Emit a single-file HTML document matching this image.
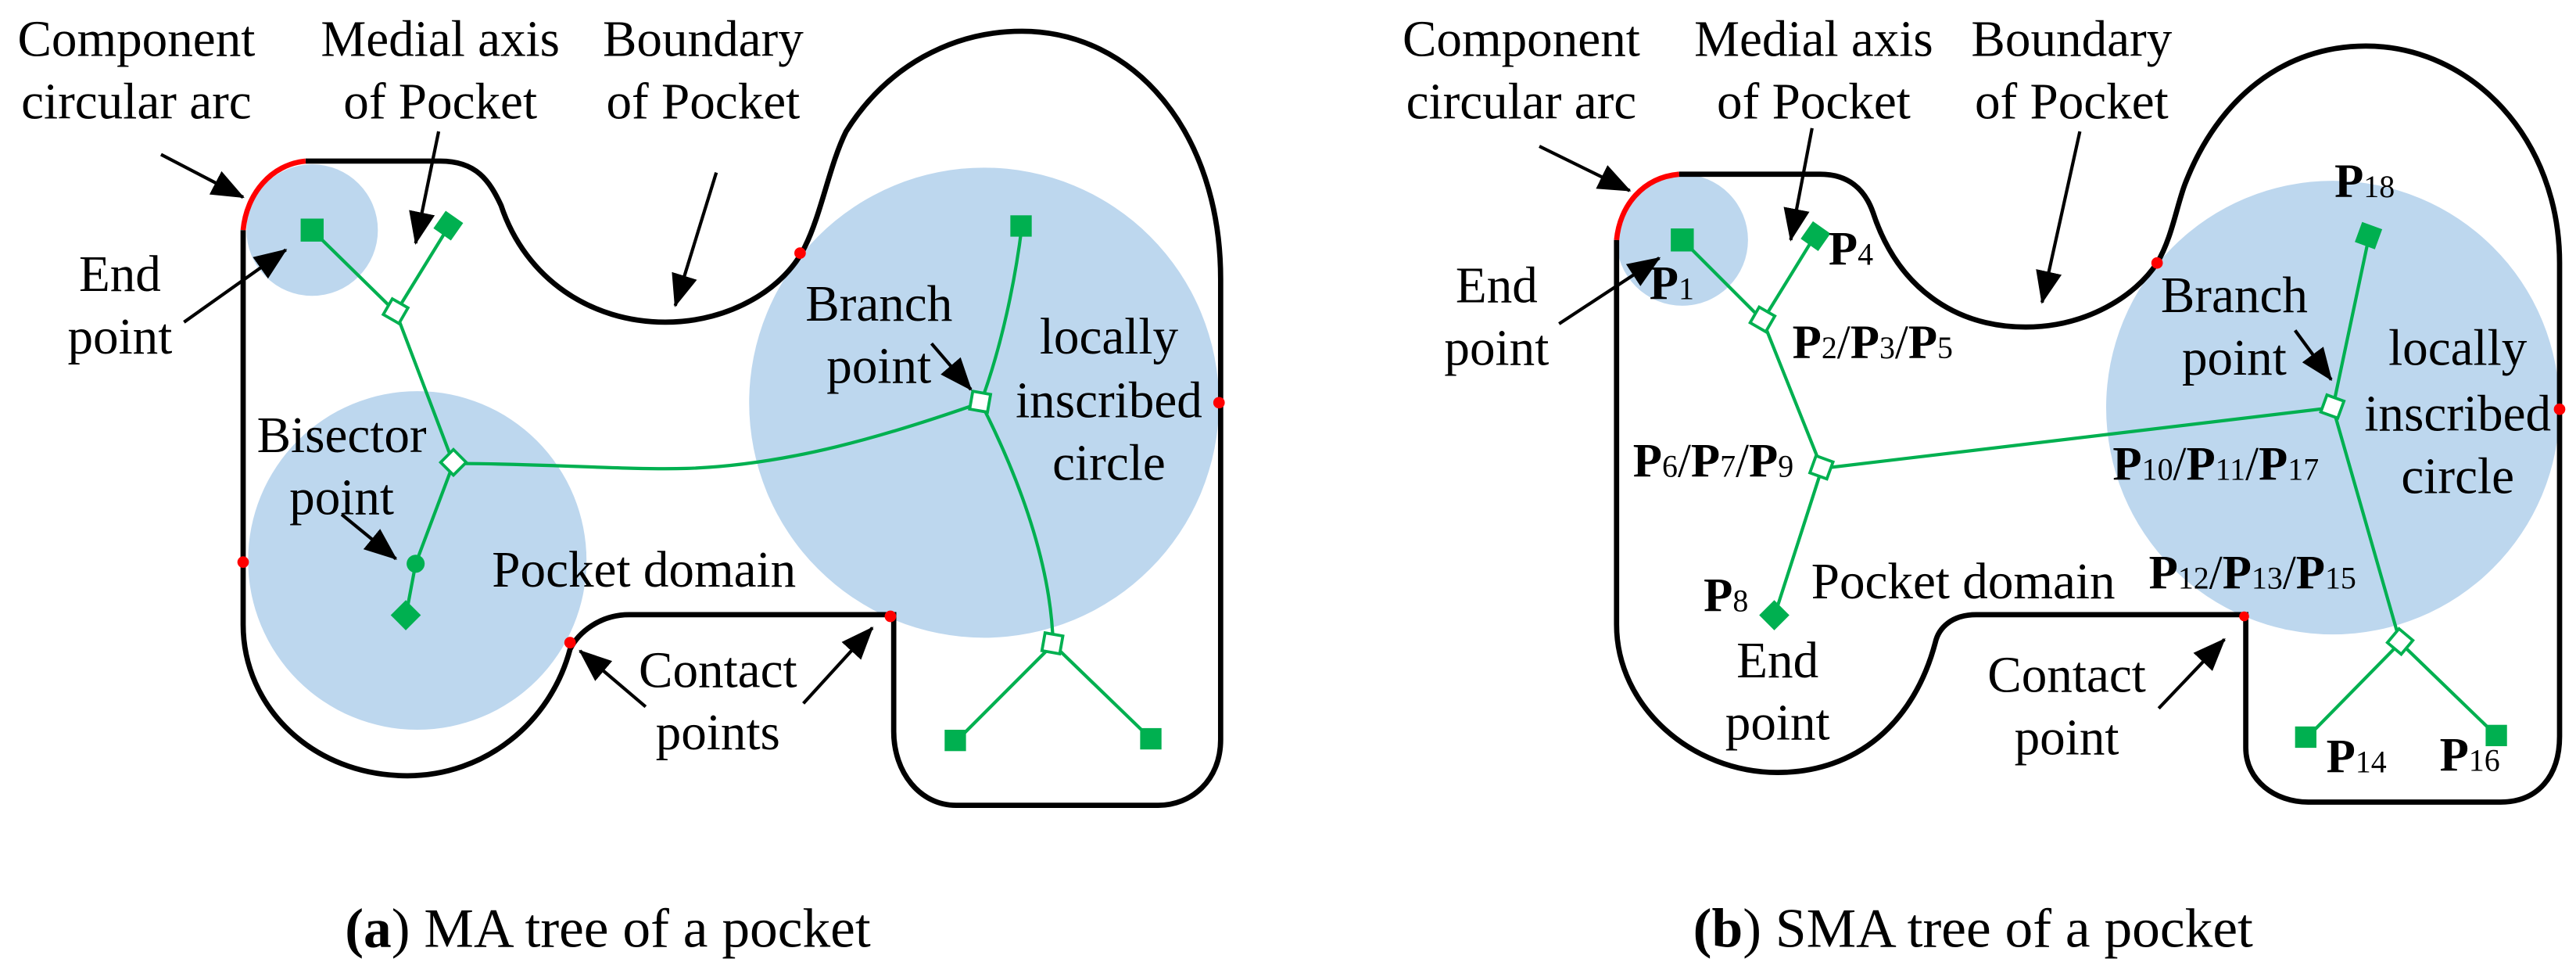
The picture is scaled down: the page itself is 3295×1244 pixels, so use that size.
<!DOCTYPE html>
<html><head><meta charset="utf-8"><style>
html,body{margin:0;padding:0;background:#fff}
svg{display:block}
svg text{font-family:"Liberation Serif","Times New Roman",serif !important;fill:#000}
</style></head><body>
<svg width="3295" height="1244" viewBox="0 0 1568 592" preserveAspectRatio="none" xmlns="http://www.w3.org/2000/svg" font-family="Liberation Serif, serif">
<defs>
<marker id="ah2" markerWidth="20" markerHeight="16" refX="19" refY="8" orient="auto" markerUnits="userSpaceOnUse">
<path d="M0,0 L20,8 L0,16 z" fill="#000"/>
</marker>
</defs>

<!-- ===== Panel A ===== -->
<circle cx="190" cy="140" r="40" fill="#bdd7ee"/>
<circle cx="254" cy="341" r="103" fill="#bdd7ee"/>
<circle cx="599" cy="245" r="143" fill="#bdd7ee"/>

<path d="M186,98 L268,98 C290,98 298,110 305,125 C320,170 360,196 405,196 C445,196 478,175 490,150 C500,130 505,100 515,80 C540,40 580,19 622,19 C690,19 743,80 743,170 L743,450 C743,475 725,490 705,490 L582,490 C560,490 544,470 544,445 L544,374 L383,374 C365,374 352,385 347,395 C335,440 295,472 248,472 C190,472 148,430 148,380 L148,140" fill="none" stroke="#000" stroke-width="3.2"/>
<path d="M148,140 C150,118 165,100 186,98" fill="none" stroke="#f00" stroke-width="3.2"/>

<g fill="#f00">
<circle cx="148" cy="342" r="3.5"/><circle cx="487" cy="154" r="3.5"/><circle cx="742" cy="245" r="3.5"/>
<circle cx="542" cy="375" r="3.5"/><circle cx="347" cy="391" r="3.5"/>
</g>

<g stroke="#00b050" stroke-width="2" fill="none">
<path d="M190,140 L241,190 L273,138"/>
<path d="M241,190 L276,282 L253,343 L247,375"/>
<path d="M276,282 C330,282 380,286 418,285 C480,283 540,265 597,245"/>
<path d="M597,245 C610,210 618,170 622,138"/>
<path d="M597,245 C625,300 640,350 641,392"/>
<path d="M582,451 L641,392 L701,450"/>
</g>
<g fill="#00b050">
<rect x="183" y="133" width="14" height="14"/>
<rect x="266" y="131" width="13" height="13" transform="rotate(35 273 138)"/>
<circle cx="253" cy="343" r="5.5"/>
<rect x="240" y="368" width="13" height="13" transform="rotate(45 247 375)"/>
<rect x="615" y="131" width="13" height="13"/>
<rect x="575" y="444" width="13" height="13"/>
<rect x="694" y="443" width="13" height="13"/>
</g>
<g fill="#fff" stroke="#00b050" stroke-width="1.8">
<rect x="235" y="184" width="11" height="11" transform="rotate(30 241 190)"/>
<rect x="270" y="276" width="11" height="11" transform="rotate(45 276 282)"/>
<rect x="591" y="239" width="11" height="11" transform="rotate(10 597 245)"/>
<rect x="635" y="386" width="11" height="11" transform="rotate(10 641 392)"/>
</g>

<g stroke="#000" stroke-width="2" marker-end="url(#ah2)">
<line x1="98" y1="94" x2="148" y2="120"/>
<line x1="267" y1="80" x2="253" y2="148"/>
<line x1="436" y1="105" x2="411" y2="186"/>
<line x1="112" y1="196" x2="174" y2="152"/>
<line x1="208" y1="313" x2="241" y2="340"/>
<line x1="567" y1="209" x2="591" y2="237"/>
<line x1="393" y1="430" x2="353" y2="396"/>
<line x1="489" y1="428" x2="531" y2="382"/>
</g>

<g font-size="31" text-anchor="middle" font-family="Liberation Serif, serif">
<text x="83" y="34">Component</text>
<text x="83" y="72">circular arc</text>
<text x="268" y="34">Medial axis</text>
<text x="268" y="72">of Pocket</text>
<text x="428" y="34">Boundary</text>
<text x="428" y="72">of Pocket</text>
<text x="73" y="177">End</text>
<text x="73" y="215">point</text>
<text x="208" y="275">Bisector</text>
<text x="208" y="313">point</text>
<text x="392" y="357">Pocket domain</text>
<text x="535" y="195">Branch</text>
<text x="535" y="233">point</text>
<text x="675" y="215">locally</text>
<text x="675" y="254">inscribed</text>
<text x="675" y="292">circle</text>
<text x="437" y="418">Contact</text>
<text x="437" y="456">points</text>
</g>
<text x="370" y="576" font-size="34" text-anchor="middle" font-family="Liberation Serif, serif"><tspan font-weight="bold">(a</tspan>) MA tree of a pocket</text>

<!-- ===== Panel B ===== -->
<circle cx="1024" cy="146" r="40" fill="#bdd7ee"/>
<circle cx="1420" cy="248" r="138" fill="#bdd7ee"/>

<path d="M1022,106 L1108,106 C1125,106 1135,115 1140,129 C1155,175 1190,199 1233,199 C1270,199 1300,180 1313,160 C1322,145 1325,125 1330,112 C1350,60 1390,28 1440,28 C1505,28 1558,85 1558,160 L1558,448 C1558,472 1545,488 1522,488 L1405,488 C1385,488 1367,475 1367,455 L1367,374 L1203,374 C1188,374 1180,382 1178,391 C1165,440 1130,470 1082,470 C1030,470 984,430 984,380 L984,146" fill="none" stroke="#000" stroke-width="3.2"/>
<path d="M984,146 C986,125 1000,108 1022,106" fill="none" stroke="#f00" stroke-width="3.2"/>
<g fill="#f00">
<circle cx="1313" cy="160" r="3.5"/><circle cx="1558" cy="249" r="3.5"/><circle cx="1366" cy="375" r="3"/>
</g>

<g stroke="#00b050" stroke-width="2" fill="none">
<path d="M1024,146 L1073,195 L1105,143"/>
<path d="M1073,195 L1109,285 L1080,375"/>
<path d="M1109,285 L1420,248 L1442,144"/>
<path d="M1420,248 L1461,391"/>
<path d="M1404,449 L1461,391 L1520,448"/>
</g>
<g fill="#00b050">
<rect x="1017" y="139" width="14" height="14"/>
<rect x="1099" y="137" width="13" height="13" transform="rotate(35 1105 143)"/>
<rect x="1073" y="368" width="13" height="13" transform="rotate(45 1080 375)"/>
<rect x="1435" y="137" width="13" height="13" transform="rotate(20 1442 144)"/>
<rect x="1397" y="442" width="13" height="13"/>
<rect x="1513" y="441" width="13" height="13"/>
</g>
<g fill="#fff" stroke="#00b050" stroke-width="1.8">
<rect x="1067" y="189" width="11" height="11" transform="rotate(30 1073 195)"/>
<rect x="1103" y="279" width="11" height="11" transform="rotate(20 1109 285)"/>
<rect x="1414" y="242" width="11" height="11" transform="rotate(20 1420 248)"/>
<rect x="1455" y="385" width="11" height="11" transform="rotate(40 1461 391)"/>
</g>

<g stroke="#000" stroke-width="2" marker-end="url(#ah2)">
<line x1="937" y1="89" x2="992" y2="116"/>
<line x1="1103" y1="78" x2="1090" y2="146"/>
<line x1="1266" y1="80" x2="1243" y2="184"/>
<line x1="949" y1="197" x2="1010" y2="157"/>
<line x1="1397" y1="201" x2="1419" y2="231"/>
<line x1="1314" y1="431" x2="1354" y2="389"/>
</g>

<g font-size="31" text-anchor="middle" font-family="Liberation Serif, serif">
<text x="926" y="34">Component</text>
<text x="926" y="72">circular arc</text>
<text x="1104" y="34">Medial axis</text>
<text x="1104" y="72">of Pocket</text>
<text x="1261" y="34">Boundary</text>
<text x="1261" y="72">of Pocket</text>
<text x="911" y="184">End</text>
<text x="911" y="222">point</text>
<text x="1082" y="412">End</text>
<text x="1082" y="450">point</text>
<text x="1195" y="364">Pocket domain</text>
<text x="1258" y="421">Contact</text>
<text x="1258" y="459">point</text>
<text x="1360" y="190">Branch</text>
<text x="1360" y="228">point</text>
<text x="1496" y="222">locally</text>
<text x="1496" y="262">inscribed</text>
<text x="1496" y="300">circle</text>
</g>
<g font-size="29" font-family="Liberation Serif, serif">
<text x="1004" y="182"><tspan font-weight="bold">P</tspan><tspan font-size="19">1</tspan></text>
<text x="1113" y="161"><tspan font-weight="bold">P</tspan><tspan font-size="19">4</tspan></text>
<text x="1091" y="218"><tspan font-weight="bold">P</tspan><tspan font-size="19">2</tspan>/<tspan font-weight="bold">P</tspan><tspan font-size="19">3</tspan>/<tspan font-weight="bold">P</tspan><tspan font-size="19">5</tspan></text>
<text x="994" y="290"><tspan font-weight="bold">P</tspan><tspan font-size="19">6</tspan>/<tspan font-weight="bold">P</tspan><tspan font-size="19">7</tspan>/<tspan font-weight="bold">P</tspan><tspan font-size="19">9</tspan></text>
<text x="1037" y="372"><tspan font-weight="bold">P</tspan><tspan font-size="19">8</tspan></text>
<text x="1286" y="292"><tspan font-weight="bold">P</tspan><tspan font-size="19">10</tspan>/<tspan font-weight="bold">P</tspan><tspan font-size="19">11</tspan>/<tspan font-weight="bold">P</tspan><tspan font-size="19">17</tspan></text>
<text x="1308" y="358"><tspan font-weight="bold">P</tspan><tspan font-size="19">12</tspan>/<tspan font-weight="bold">P</tspan><tspan font-size="19">13</tspan>/<tspan font-weight="bold">P</tspan><tspan font-size="19">15</tspan></text>
<text x="1421" y="120"><tspan font-weight="bold">P</tspan><tspan font-size="19">18</tspan></text>
<text x="1416" y="470"><tspan font-weight="bold">P</tspan><tspan font-size="19">14</tspan></text>
<text x="1485" y="469"><tspan font-weight="bold">P</tspan><tspan font-size="19">16</tspan></text>
</g>
<text x="1201" y="576" font-size="34" text-anchor="middle" font-family="Liberation Serif, serif"><tspan font-weight="bold">(b</tspan>) SMA tree of a pocket</text>
</svg>
</body></html>
